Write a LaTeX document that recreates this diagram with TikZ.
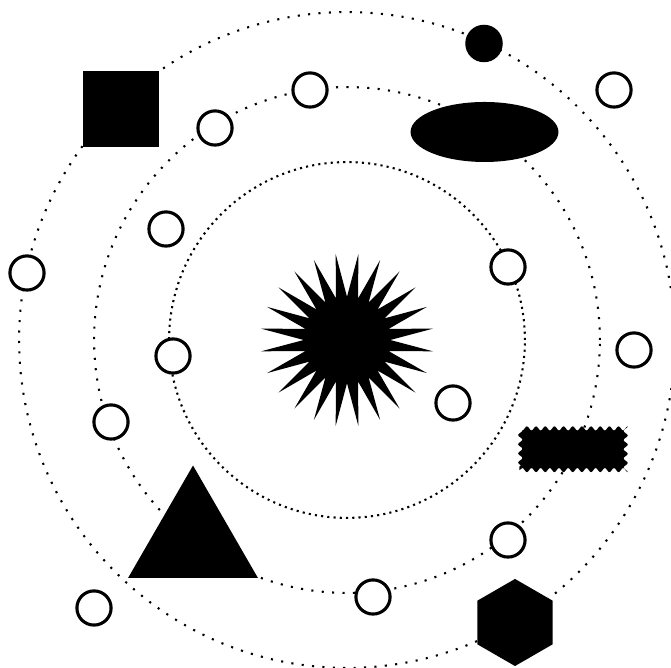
\documentclass[tikz,border=0pt]{standalone}
\usepackage{tikz}
\usetikzlibrary{shapes.geometric,decorations.pathmorphing}

\begin{document}
\begin{tikzpicture}[
    x=0.24pt, y=-0.24pt,
    orbit/.style={line width=0.5pt, dotted},
    inner orbit/.style={line width=0.5pt, densely dotted},
    ring/.style={circle, draw, line width=0.75pt, fill=white, minimum size=8.2pt, inner sep=0pt},
    blob/.style={fill=black, inner sep=0pt}
  ]
    \clip (0,0) rectangle (671,668);
    \node[star, star points=24, star point ratio=2, shape border rotate=7.5, minimum size=41.5pt, blob] (sun) at (347,340) {};
    \draw[inner orbit] (sun.center) circle (42.7pt);
    \draw[orbit] (sun.center) circle (60.7pt);
    \draw[orbit] (sun.center) circle (78.7pt);
    \node[rectangle, blob, minimum size=18.2pt] (box) at (121,109) {};
    \node[circle, blob, minimum size=9pt] (moon) at (484,43.5) {};
    \node[ellipse, blob, minimum width=35.5pt, minimum height=14.4pt] (disc) at (484.5,132) {};
    \node[rectangle, blob, minimum width=25.7pt, minimum height=10.6pt,
      decorate, decoration={snake, segment length=2.2pt, amplitude=0.5pt}] (wave) at (573,448) {};
    \node[regular polygon, regular polygon sides=6, shape border rotate=30, minimum size=20.9pt, blob] (hexa) at (515,622.5) {};
    \node[regular polygon, regular polygon sides=3, minimum size=36pt, blob] (tri) at (193,540.5) {};
    \node[ring] (r1) at (614,90) {};
    \node[ring] (r2) at (310,90) {};
    \node[ring] (r3) at (215,128) {};
    \node[ring] (r4) at (166,229) {};
    \node[ring] (r5) at (27,273) {};
    \node[ring] (r6) at (508,267) {};
    \node[ring] (r7) at (173,356) {};
    \node[ring] (r8) at (634,350) {};
    \node[ring] (r9) at (453,403) {};
    \node[ring] (r10) at (111,422) {};
    \node[ring] (r11) at (508,540) {};
    \node[ring] (r12) at (373,597) {};
    \node[ring] (r13) at (94,608) {};
  \end{tikzpicture}
\end{document}
